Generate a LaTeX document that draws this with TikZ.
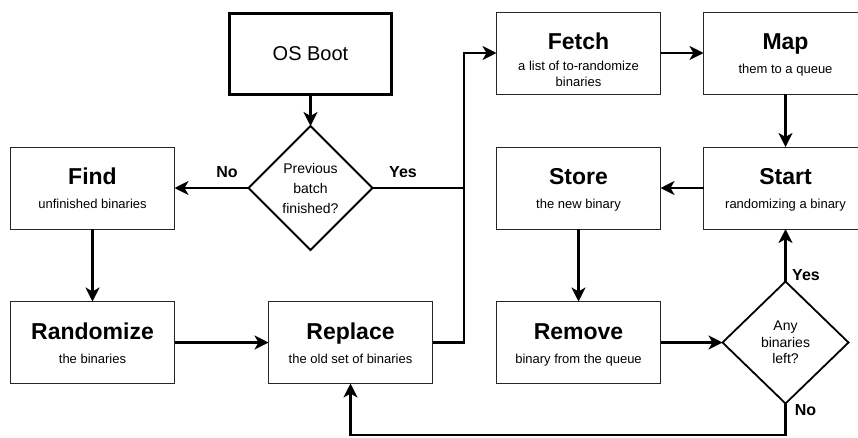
\documentclass[tikz,border=0pt]{standalone}
\usepackage{fontspec}
\setmainfont{Liberation Sans}
\usetikzlibrary{arrows.meta,calc,shapes.geometric}
\begin{document}
\begin{tikzpicture}[x=1pt,y=-1pt,
  stepbox/.style={draw=black!85,line width=1pt,minimum width=164pt,minimum height=82pt,inner sep=0pt,outer sep=0pt},
  bootbox/.style={draw,line width=3pt,minimum width=162pt,minimum height=81pt,inner sep=0pt,outer sep=0pt,font=\fontsize{20}{24}\selectfont},
  decision/.style={draw,line width=1.8pt,diamond,aspect=1,inner sep=0pt,outer sep=0pt,align=center},
  steptitle/.style={font=\bfseries\fontsize{23}{27}\selectfont,anchor=base,inner sep=0pt},
  stepsub/.style={font=\fontsize{13}{16}\selectfont,anchor=base,inner sep=0pt,align=center},
  lbl/.style={font=\bfseries\fontsize{16}{19}\selectfont,inner sep=0pt},
  wire/.style={line width=2.9pt},
  conn/.style={wire,-{Stealth[length=14pt,width=14pt,inset=4pt]}}
]
\useasboundingbox (0,0) rectangle (858,437);

% start and first decision
\node[bootbox] (boot) at (310.5,54) {OS Boot};
\node[decision,minimum width=124pt,minimum height=124pt,
      font=\fontsize{14}{20}\selectfont] (dec1) at (310.5,188)
      {Previous\\batch\\finished?};

% process boxes
\node[stepbox] (find)   at (92.5,188)   {};
\node[stepbox] (rand)   at (92.5,342.5) {};
\node[stepbox] (repl)   at (350.5,342.5) {};
\node[stepbox] (fetch)  at (578.5,53)   {};
\node[stepbox] (map)    at (785.5,53)   {};
\node[stepbox] (store)  at (578.5,188)  {};
\node[stepbox] (start)  at (785.5,188)  {};
\node[stepbox] (remove) at (578.5,342.5) {};

% second decision
\node[decision,minimum width=126pt,minimum height=122pt,
      font=\fontsize{14}{16.5}\selectfont] (dec2) at (785.5,342.5)
      {Any\\binaries\\left?};

% box texts
\node[steptitle] (find-t)   at ($(find.north)+(0,37.5)$)   {Find};
\node[stepsub]   (find-s)   at ($(find.north)+(0,61)$)     {unfinished binaries};
\node[steptitle] (rand-t)   at ($(rand.north)+(0,37.5)$)   {Randomize};
\node[stepsub]   (rand-s)   at ($(rand.north)+(0,61.5)$)   {the binaries};
\node[steptitle] (repl-t)   at ($(repl.north)+(0,37.5)$)   {Replace};
\node[stepsub]   (repl-s)   at ($(repl.north)+(0,61.5)$)   {the old set of binaries};
\node[steptitle] (fetch-t)  at ($(fetch.north)+(0,37.5)$)  {Fetch};
\node[stepsub,anchor=north] (fetch-s) at ($(fetch.north)+(0,49)$) {a list of to-randomize\\binaries};
\node[steptitle] (map-t)    at ($(map.north)+(0,37.5)$)    {Map};
\node[stepsub]   (map-s)    at ($(map.north)+(0,61)$)      {them to a queue};
\node[steptitle] (store-t)  at ($(store.north)+(0,37.5)$)  {Store};
\node[stepsub]   (store-s)  at ($(store.north)+(0,61)$)    {the new binary};
\node[steptitle] (start-t)  at ($(start.north)+(0,37.5)$)  {Start};
\node[stepsub]   (start-s)  at ($(start.north)+(0,61)$)    {randomizing a binary};
\node[steptitle] (remove-t) at ($(remove.north)+(0,37.5)$) {Remove};
\node[stepsub]   (remove-s) at ($(remove.north)+(0,61.5)$) {binary from the queue};

% branch labels
\node[lbl] (no1)  at (227,172)   {No};
\node[lbl] (yes1) at (403,172)   {Yes};
\node[lbl] (yes2) at (806,275)   {Yes};
\node[lbl] (no2)  at (805.5,410) {No};

% junction and loop-back corner
\coordinate (join) at (464,188);
\coordinate (loop) at (785.5,435);

% connectors
\draw[conn] (boot.south) -- (dec1.north);
\draw[conn] (dec1.west) -- (find.east);
\draw[conn] (find.south) -- (rand.north);
\draw[conn] (rand.east) -- (repl.west);
\draw[wire] (dec1.east) -- (join);
\draw[wire] (repl.east) -| (join);
\draw[conn] (join) |- (fetch.west);
\draw[conn] (fetch.east) -- (map.west);
\draw[conn] (map.south) -- (start.north);
\draw[conn] (start.west) -- (store.east);
\draw[conn] (store.south) -- (remove.north);
\draw[conn] (remove.east) -- (dec2.west);
\draw[conn] (dec2.north) -- (start.south);
\draw[conn] (dec2.south) -- (loop) -| (repl.south);
\end{tikzpicture}
\end{document}
